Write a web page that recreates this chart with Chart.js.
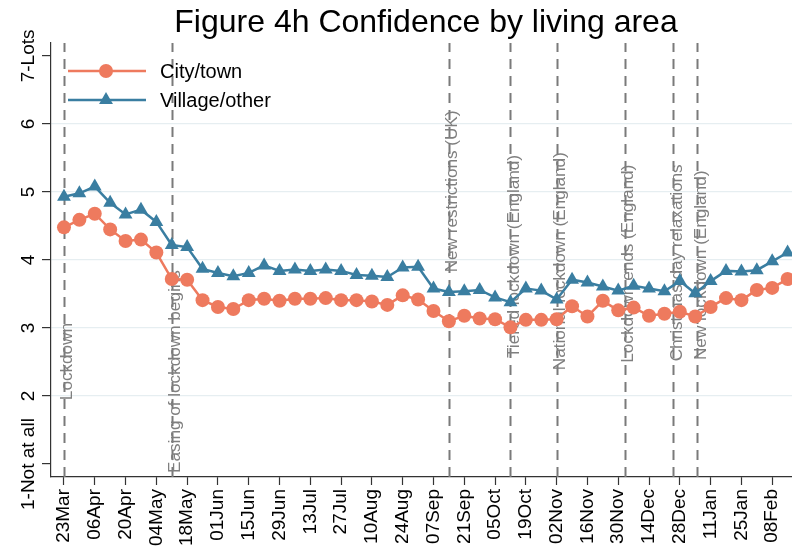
<!DOCTYPE html>
<html>
<head>
<meta charset="utf-8">
<script src="https://cdn.jsdelivr.net/npm/chart.js@4.4.0/dist/chart.umd.min.js"></script>
<style>
  html, body { margin: 0; padding: 0; background: #ffffff; }
  #wrap { width: 792px; height: 549px; position: relative; }
</style>
</head>
<body>
<div id="wrap"><canvas id="c" width="792" height="549"></canvas></div>
<script>
// ---- Data ----
const dates = [
  '2020-03-23','2020-03-30','2020-04-06','2020-04-13','2020-04-20','2020-04-27',
  '2020-05-04','2020-05-11','2020-05-18','2020-05-25','2020-06-01','2020-06-08',
  '2020-06-15','2020-06-22','2020-06-29','2020-07-06','2020-07-13','2020-07-20',
  '2020-07-27','2020-08-03','2020-08-10','2020-08-17','2020-08-24','2020-08-31',
  '2020-09-07','2020-09-14','2020-09-21','2020-09-28','2020-10-05','2020-10-12',
  '2020-10-19','2020-10-26','2020-11-02','2020-11-09','2020-11-16','2020-11-23',
  '2020-11-30','2020-12-07','2020-12-14','2020-12-21','2020-12-28','2021-01-04',
  '2021-01-11','2021-01-18','2021-01-25','2021-02-01','2021-02-08','2021-02-15'
];
const cityTown = [
  4.48,4.59,4.68,4.45,4.28,4.30,4.11,3.72,3.71,3.41,3.31,3.28,
  3.41,3.43,3.40,3.43,3.43,3.44,3.41,3.41,3.39,3.34,3.48,3.42,
  3.25,3.10,3.18,3.14,3.13,3.01,3.12,3.12,3.13,3.32,3.17,3.40,
  3.26,3.30,3.18,3.21,3.24,3.17,3.31,3.44,3.41,3.56,3.59,3.72
];
const villageOther = [
  4.93,4.98,5.08,4.84,4.67,4.74,4.56,4.22,4.19,3.87,3.81,3.76,
  3.81,3.92,3.84,3.86,3.84,3.86,3.84,3.78,3.77,3.75,3.89,3.90,
  3.58,3.53,3.54,3.56,3.45,3.38,3.58,3.55,3.42,3.71,3.67,3.61,
  3.55,3.62,3.58,3.54,3.69,3.51,3.69,3.84,3.83,3.85,3.98,4.11
];
const seriesNames = ['City/town', 'Village/other'];

const tickDates = [
  '2020-03-23','2020-04-06','2020-04-20','2020-05-04','2020-05-18','2020-06-01',
  '2020-06-15','2020-06-29','2020-07-13','2020-07-27','2020-08-10','2020-08-24',
  '2020-09-07','2020-09-21','2020-10-05','2020-10-19','2020-11-02','2020-11-16',
  '2020-11-30','2020-12-14','2020-12-28','2021-01-11','2021-01-25','2021-02-08'
];
const tickLabels = [
  '23Mar','06Apr','20Apr','04May','18May','01Jun','15Jun','29Jun','13Jul','27Jul',
  '10Aug','24Aug','07Sep','21Sep','05Oct','19Oct','02Nov','16Nov','30Nov','14Dec',
  '28Dec','11Jan','25Jan','08Feb'
];
const yTickValues = [1, 2, 3, 4, 5, 6, 7];
const yTickLabels = ['1-Not at all', '2', '3', '4', '5', '6', '7-Lots'];

const eventDates = ['2020-03-23','2020-05-11','2020-09-14','2020-10-12','2020-11-02','2020-12-03','2020-12-25','2021-01-05'];
const eventLabels = ['Lockdown','Easing of lockdown begins','New restrictions (UK)','Tiered lockdown (England)',
  'National lockdown (England)','Lockdown ends (England)','Christmas day relaxations','New lockdown (England)'];
const eventTextY = [1.94, 0.87, 3.82, 2.56, 2.38, 2.49, 2.51, 2.53];

// ---- Helpers ----
const day0 = Date.UTC(2020, 2, 23);
function toDay(s) {
  const p = s.split('-').map(Number);
  return (Date.UTC(p[0], p[1] - 1, p[2]) - day0) / 86400000;
}
const xDays = dates.map(toDay);
const tickDays = tickDates.map(toDay);
const eventDays = eventDates.map(toDay);

const ORANGE = '#EE7A5E';
const BLUE = '#3A7EA1';
const FONT = '"Liberation Sans", Arial, Helvetica, sans-serif';

const decorPlugin = {
  id: 'decor',
  beforeDatasetsDraw(chart) {
    const ctx = chart.ctx, xs = chart.scales.x, ys = chart.scales.y, ca = chart.chartArea;
    ctx.save();
    ctx.strokeStyle = '#7a7a7a';
    ctx.lineWidth = 2;
    ctx.setLineDash([10, 7]);
    eventDays.forEach(d => {
      const x = Math.round(xs.getPixelForValue(d)) + 0.5;
      ctx.beginPath();
      ctx.moveTo(x, ca.bottom);
      ctx.lineTo(x, ca.top);
      ctx.stroke();
    });
    ctx.setLineDash([]);
    ctx.fillStyle = '#7f7f7f';
    ctx.font = '16px ' + FONT;
    ctx.textAlign = 'left';
    ctx.textBaseline = 'middle';
    eventDays.forEach((d, i) => {
      const x = xs.getPixelForValue(d) + 4;
      const y = ys.getPixelForValue(eventTextY[i]);
      ctx.save();
      ctx.translate(x, y);
      ctx.rotate(-Math.PI / 2);
      ctx.scale(1.07, 1);
      ctx.fillText(eventLabels[i], 0, 0);
      ctx.restore();
    });
    ctx.restore();
  },
  afterDraw(chart) {
    const ctx = chart.ctx, ys = chart.scales.y;
    ctx.save();
    ctx.fillStyle = '#000';
    ctx.font = '32px ' + FONT;
    ctx.textAlign = 'center';
    ctx.textBaseline = 'alphabetic';
    ctx.fillText('Figure 4h Confidence by living area', 426, 32);
    ctx.font = '19px ' + FONT;
    ctx.textAlign = 'center';
    ctx.textBaseline = 'middle';
    yTickValues.forEach((v, i) => {
      const y = ys.getPixelForValue(v);
      ctx.save();
      ctx.translate(29, y);
      ctx.rotate(-Math.PI / 2);
      ctx.fillText(yTickLabels[i], 0, 0);
      ctx.restore();
    });
    const items = [
      { name: seriesNames[0], color: ORANGE, style: 'circle', y: 71 },
      { name: seriesNames[1], color: BLUE, style: 'triangle', y: 100 }
    ];
    items.forEach(it => {
      ctx.strokeStyle = it.color;
      ctx.fillStyle = it.color;
      ctx.lineWidth = 2.5;
      ctx.beginPath();
      ctx.moveTo(68, it.y);
      ctx.lineTo(146, it.y);
      ctx.stroke();
      Chart.helpers.drawPoint(ctx, { pointStyle: it.style, radius: it.style === 'circle' ? 7 : 8, borderWidth: 0, rotation: 0 }, 106, it.y);
      ctx.fillStyle = '#000';
      ctx.font = '20px ' + FONT;
      ctx.textAlign = 'left';
      ctx.textBaseline = 'middle';
      ctx.fillText(it.name, 160, it.y + 1);
    });
    ctx.restore();
  }
};

new Chart(document.getElementById('c'), {
  type: 'line',
  data: {
    datasets: [
      {
        label: seriesNames[0],
        data: xDays.map((d, i) => ({ x: d, y: cityTown[i] })),
        borderColor: ORANGE, backgroundColor: ORANGE,
        pointBackgroundColor: ORANGE, pointBorderColor: ORANGE,
        pointStyle: 'circle', pointRadius: 7, pointBorderWidth: 0,
        borderWidth: 2.5, tension: 0, clip: false
      },
      {
        label: seriesNames[1],
        data: xDays.map((d, i) => ({ x: d, y: villageOther[i] })),
        borderColor: BLUE, backgroundColor: BLUE,
        pointBackgroundColor: BLUE, pointBorderColor: BLUE,
        pointStyle: 'triangle', pointRadius: 8, pointBorderWidth: 0,
        borderWidth: 2.5, tension: 0, clip: false
      }
    ]
  },
  options: {
    responsive: false,
    animation: false,
    events: [],
    layout: { autoPadding: false, padding: { top: 43, right: 0, left: 0, bottom: 0 } },
    plugins: { legend: { display: false }, title: { display: false }, tooltip: { enabled: false } },
    scales: {
      x: {
        type: 'linear',
        min: -5.9,
        max: 331,
        afterBuildTicks(scale) { scale.ticks = tickDays.map(v => ({ value: v })); },
        afterFit(scale) { scale.height = 72; scale.paddingLeft = 0; scale.paddingRight = 0; },
        ticks: {
          autoSkip: false,
          minRotation: 90, maxRotation: 90,
          padding: 4,
          color: '#000',
          font: { family: FONT, size: 19 },
          callback(value) {
            const i = tickDays.indexOf(value);
            return i >= 0 ? tickLabels[i] : '';
          }
        },
        grid: { drawOnChartArea: false, drawTicks: true, tickLength: 8, tickColor: '#333', tickWidth: 1.2 },
        border: { display: true, color: '#333', width: 1.2 }
      },
      y: {
        type: 'linear',
        min: 0.81,
        max: 7.19,
        afterBuildTicks(scale) { scale.ticks = yTickValues.map(v => ({ value: v })); },
        afterFit(scale) { scale.width = 51; scale.paddingTop = 0; scale.paddingBottom = 0; },
        ticks: { display: false },
        grid: {
          drawOnChartArea: true,
          drawTicks: true,
          tickLength: 9,
          tickColor: '#333',
          color(ctx) { const v = ctx.tick && ctx.tick.value; return (v >= 2 && v <= 6) ? '#e6eef1' : 'rgba(0,0,0,0)'; },
          lineWidth: 1.2
        },
        border: { display: true, color: '#333', width: 1.2 }
      }
    }
  },
  plugins: [decorPlugin]
});
</script>
</body>
</html>
